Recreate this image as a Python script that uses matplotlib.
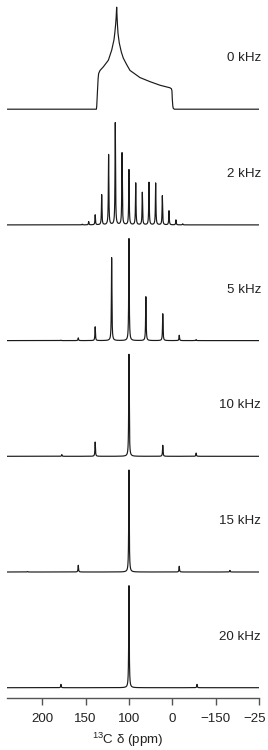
import numpy as np
import matplotlib
matplotlib.use("Agg")
import matplotlib.pyplot as plt
import matplotlib.transforms as mtransforms

plt.rcParams['font.family'] = ['Liberation Sans', 'DejaVu Sans']
plt.rcParams['mathtext.default'] = 'regular'

# ---- data ----
panel_labels = ["0 kHz", "2 kHz", "5 kHz", "10 kHz", "15 kHz", "20 kHz"]

# static (0 kHz) powder pattern: ppm, intensity (% of max)
static_ppm = [240, 137.6, 137.2, 136.5, 135.6, 135.0, 133.4, 129.6, 123.8, 119.9, 117.3,
              116.3, 115.3, 114.8, 114.2, 113.7, 113.3, 112.6, 111.2, 108.8, 106.5, 102.5,
              98.8, 93.0, 87.3, 75.7, 64.2, 52.7, 51.0, 50.4, 50.0, 49.4, 48.8, 47.5, -60]
static_int = [0, 0, 3, 15, 30, 35, 38, 41.5, 48, 58, 68,
              75, 84, 90, 100, 90, 83, 74, 65, 56, 50, 43.5,
              38, 34.5, 31, 27, 23.5, 21, 20, 18, 10, 3, 0.7, 0, 0]

# spinning sidebands: positions (ppm) and heights (% of tallest line)
sb2_ppm = [154, 146.5, 139, 131.5, 123.5, 115.8, 108, 100, 92.2, 84.6, 76.9, 69.2, 61.5, 53.8, 45.8, 38]
sb2_int = [0.7, 3.2, 9.8, 29.5, 68.8, 100, 70.5, 54, 41, 31.8, 41.6, 41, 28.5, 13.8, 4.9, 1.0]

sb5_ppm = [178.5, 158.5, 139, 120, 100, 80.5, 61, 42, 22.5]
sb5_int = [0.4, 2.7, 13.5, 81.3, 100, 43, 26.3, 5.2, 1.0]

sb10_ppm = [177.5, 139, 100, 61, 22.5]
sb10_int = [1.7, 14, 100, 10.8, 3.2]

sb15_ppm = [217, 158.5, 100, 42, -16.5]
sb15_int = [0.5, 6.6, 100, 5.6, 1.6]

sb20_ppm = [178.5, 100, 21.5]
sb20_int = [3.3, 100, 3.3]

tick_pos = [200, 150, 100, 50, 0, -50]
tick_labels = ["200", "150", "100", "0", "\u2212150", "\u221225"]

# ---- figure ----
W, H = 268, 750
fig = plt.figure(figsize=(W / 100, H / 100), dpi=100)
ax_left, ax_right = 7.3, 259.3
ax_bottom_px = 697.7
ax = fig.add_axes([ax_left / W, (H - ax_bottom_px) / H, (ax_right - ax_left) / W, ax_bottom_px / H])

peak_px = 102.0
step_px = 115.7
step = step_px / peak_px
ax.set_xlim(240.4, -50.4)
ax.set_ylim(-10 / peak_px, ax_bottom_px / peak_px - 10 / peak_px)

x = np.linspace(241, -51, 40000)
hw = 0.35


def spectrum(pos, amp):
    y = np.zeros_like(x)
    for p, a in zip(pos, amp):
        y += (a / 100.0) * hw ** 2 / ((x - p) ** 2 + hw ** 2)
    return y


line_kw = dict(color='#1a1a1a', lw=0.85)
n = len(panel_labels)
offsets = [(n - 1 - i) * step for i in range(n)]

ax.plot(static_ppm, np.array(static_int) / 100.0 + offsets[0], **line_kw)
for i, (pp, ii) in enumerate([(sb2_ppm, sb2_int), (sb5_ppm, sb5_int), (sb10_ppm, sb10_int),
                              (sb15_ppm, sb15_int), (sb20_ppm, sb20_int)], start=1):
    ax.plot(x, spectrum(pp, ii) + offsets[i], **line_kw)

trans = mtransforms.blended_transform_factory(ax.transAxes, ax.transData)
for lab, off in zip(panel_labels, offsets):
    ax.text((261 - ax_left) / (ax_right - ax_left), off + 51 / peak_px, lab,
            transform=trans, ha='right', va='center', fontsize=9.6, color='#222222')

for s in ['top', 'left', 'right']:
    ax.spines[s].set_visible(False)
ax.spines['bottom'].set_color('#555555')
ax.spines['bottom'].set_linewidth(1.0)
ax.set_yticks([])
ax.set_xticks(tick_pos)
ax.set_xticklabels(tick_labels)
ax.tick_params(axis='x', direction='out', length=4.7, width=1.0, color='#555555',
               labelsize=9.6, labelcolor='#222222', pad=6.5)
# last label sits flush with the right edge of the figure
last = ax.get_xticklabels()[-1]
last.set_horizontalalignment('right')
last.set_transform(last.get_transform() + mtransforms.ScaledTranslation(7.5 / 100, 0, fig.dpi_scale_trans))
ax.patch.set_visible(False)

fig.text(127.5 / W, 1 - 740 / H, "$^{13}$C \u03b4 (ppm)", ha='center', va='center',
         fontsize=9.6, color='#222222')

fig.savefig("out.png", dpi=100)
